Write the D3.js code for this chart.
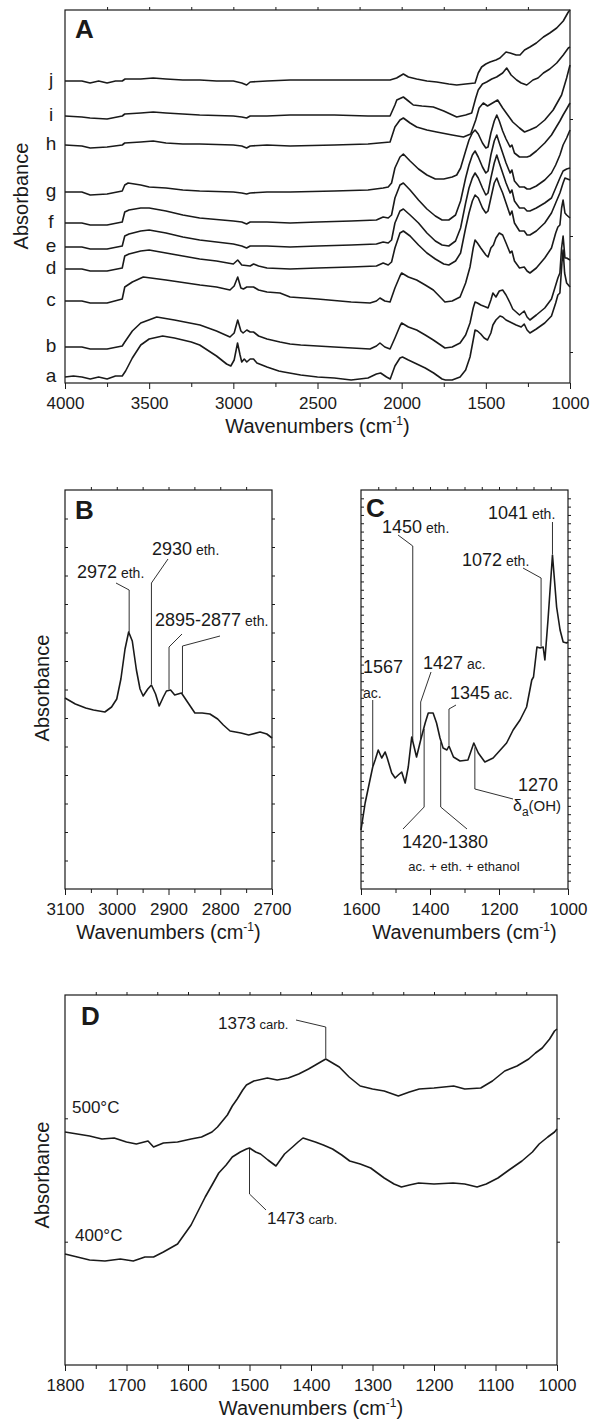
<!DOCTYPE html>
<html><head><meta charset="utf-8">
<script src="https://cdn.jsdelivr.net/npm/d3@7"></script>
<style>
body{margin:0;background:#fff}
svg{display:block;background:#fff}
text{font-family:"Liberation Sans",Arial,Helvetica,sans-serif;fill:#1a1a1a}
</style>
</head><body>
<svg id="chart" width="595" height="1419"></svg>
<script>
// ---------------- DATA ----------------
// Panel A: stacked spectra a..j (wavenumber, absorbance a.u.)
const curveLabelsA = ['a','b','c','d','e','f','g','h','i','j'];
const specA_a = [[4000,6],[3950,7],[3900,6],[3850,4],[3800,6],[3750,4],[3700,7],[3660,7],[3640,12],[3600,25],[3550,38],[3500,44],[3420,47],[3350,45],[3250,41],[3200,38],[3100,27],[3040,19],[3015,17],[2995,23],[2975,40],[2960,28],[2950,21],[2935,24],[2920,21],[2900,24],[2880,24],[2860,20],[2830,18],[2800,16],[2730,12],[2700,11],[2600,8],[2500,6],[2400,5],[2300,3],[2200,5],[2150,9],[2125,10],[2090,6],[2068,4],[2040,17],[2010,25],[1995,26],[1960,23],[1910,19],[1860,15],[1810,10],[1760,4],[1740,3],[1700,3],[1653,6],[1620,13],[1594,26],[1575,43],[1564,53],[1550,52],[1530,49],[1510,45],[1490,43],[1470,50],[1458,58],[1440,63],[1416,67],[1400,66],[1380,63],[1356,61],[1320,58],[1290,56],[1272,59],[1255,53],[1238,50],[1200,54],[1150,60],[1110,67],[1085,80],[1072,88],[1060,90],[1048,120],[1041,133],[1032,110],[1020,100],[1000,96]];
const specA_b = [[4000,36],[3900,36],[3850,34],[3750,34],[3660,37],[3645,41],[3600,52],[3550,60],[3455,66],[3350,63],[3198,58],[3100,52],[3020,46],[2995,50],[2974,63],[2955,52],[2942,50],[2920,53],[2900,51],[2880,51],[2850,47],[2800,44],[2723,41],[2663,39],[2600,38],[2400,36],[2188,34],[2150,37],[2129,40],[2100,36],[2069,34],[2040,45],[2010,57],[2000,60],[1960,56],[1911,53],[1860,48],[1812,43],[1760,37],[1743,35],[1700,36],[1653,40],[1620,48],[1594,60],[1575,75],[1564,81],[1550,80],[1530,78],[1500,76],[1487,75],[1470,83],[1458,90],[1440,86],[1420,92],[1400,93],[1380,88],[1356,80],[1340,74],[1300,68],[1272,72],[1255,66],[1238,63],[1200,68],[1150,75],[1110,84],[1090,95],[1072,105],[1060,110],[1050,135],[1041,147],[1030,125],[1020,125],[1000,123]];
const specA_c = [[4000,82],[3900,82],[3850,80],[3750,80],[3660,84],[3645,96],[3600,101],[3535,106],[3400,103],[3198,98],[3100,96],[3020,93],[2995,97],[2974,106],[2955,95],[2940,94],[2920,96],[2880,96],[2850,93],[2800,91],[2723,90],[2663,86],[2500,84],[2300,81],[2188,80],[2150,82],[2129,85],[2100,82],[2069,81],[2040,95],[2010,107],[2000,110],[1960,106],[1911,103],[1860,98],[1812,93],[1760,84],[1743,81],[1700,82],[1653,86],[1620,100],[1594,116],[1575,135],[1564,143],[1550,140],[1530,135],[1500,128],[1487,126],[1470,135],[1455,138],[1440,145],[1420,150],[1400,148],[1380,140],[1356,130],[1345,132],[1330,122],[1300,115],[1272,116],[1255,112],[1238,110],[1200,115],[1150,125],[1110,135],[1085,150],[1072,156],[1060,158],[1050,175],[1041,183],[1030,170],[1020,168],[1000,165]];
const specA_d = [[4000,114],[3900,114],[3850,112],[3750,112],[3660,115],[3645,127],[3620,129],[3550,132],[3500,133],[3400,130],[3300,127],[3200,124],[3100,122],[3000,119],[2974,123],[2950,118],[2900,117],[2880,119],[2850,117],[2800,115],[2663,114],[2500,115],[2300,116],[2150,117],[2110,120],[2080,118],[2060,121],[2040,135],[2010,150],[1990,152],[1950,147],[1900,138],[1850,130],[1800,124],[1750,119],[1720,118],[1680,122],[1650,130],[1620,155],[1600,170],[1580,182],[1564,188],[1545,185],[1520,175],[1500,170],[1487,172],[1470,185],[1450,200],[1435,205],[1420,198],[1400,190],[1380,180],[1356,168],[1345,172],[1330,160],[1300,152],[1272,152],[1255,148],[1238,148],[1200,152],[1150,160],[1110,170],[1085,180],[1060,190],[1041,200],[1030,205],[1000,203]];
const specA_e = [[4000,136],[3900,136],[3850,134],[3750,134],[3660,137],[3645,147],[3620,149],[3550,152],[3500,153],[3400,150],[3300,146],[3200,143],[3000,139],[2950,137],[2921,135],[2900,137],[2800,137],[2663,136],[2500,137],[2300,138],[2150,139],[2110,141],[2080,140],[2060,143],[2040,160],[2010,172],[1990,174],[1950,168],[1900,160],[1850,150],[1800,142],[1760,138],[1720,137],[1680,142],[1650,155],[1620,180],[1600,195],[1580,205],[1564,210],[1545,205],[1520,195],[1500,188],[1487,190],[1470,205],[1450,220],[1435,228],[1420,220],[1400,210],[1380,200],[1356,190],[1345,193],[1330,182],[1300,175],[1272,175],[1255,172],[1238,172],[1200,175],[1150,180],[1110,185],[1085,195],[1060,205],[1041,212],[1020,214],[1000,215]];
const specA_f = [[4000,160],[3900,160],[3850,158],[3750,158],[3660,161],[3645,171],[3620,173],[3550,175],[3500,175],[3400,172],[3300,168],[3200,165],[3000,162],[2950,161],[2921,159],[2900,161],[2800,161],[2663,160],[2500,161],[2300,162],[2150,163],[2110,166],[2080,165],[2060,168],[2040,185],[2010,198],[1990,200],[1950,193],[1900,183],[1850,174],[1800,167],[1760,163],[1720,163],[1680,168],[1650,182],[1620,205],[1600,218],[1580,228],[1564,232],[1545,226],[1520,216],[1500,210],[1487,212],[1470,228],[1450,242],[1435,248],[1420,240],[1400,230],[1380,220],[1356,210],[1345,213],[1330,202],[1300,196],[1272,196],[1255,194],[1238,194],[1200,197],[1150,203],[1110,210],[1085,218],[1060,228],[1041,238],[1020,245],[1000,253]];
const specA_g = [[4000,191],[3900,191],[3850,188],[3750,189],[3660,192],[3645,198],[3625,200],[3550,198],[3500,196],[3400,195],[3300,193],[3200,192],[3000,191],[2950,190],[2921,189],[2900,190],[2800,191],[2663,191],[2400,192],[2200,193],[2110,195],[2080,196],[2060,200],[2040,215],[2010,226],[1990,229],[1950,222],[1900,214],[1850,208],[1800,204],[1750,204],[1700,206],[1673,208],[1650,215],[1620,232],[1600,243],[1580,250],[1564,253],[1545,249],[1520,240],[1500,235],[1487,236],[1470,250],[1450,262],[1435,268],[1420,262],[1400,252],[1380,244],[1356,236],[1345,238],[1330,230],[1300,226],[1272,226],[1255,226],[1238,227],[1200,232],[1150,240],[1110,248],[1085,255],[1060,262],[1041,268],[1020,274],[1000,280]];
const specA_h = [[4000,238],[3900,237],[3850,235],[3750,236],[3660,238],[3645,240],[3550,241],[3476,242],[3400,240],[3300,239],[3200,239],[3000,238],[2950,237],[2921,235],[2900,237],[2800,238],[2663,237],[2400,238],[2200,239],[2069,241],[2040,256],[2010,263],[1990,265],[1950,260],[1911,256],[1850,253],[1792,251],[1700,248],[1633,246],[1590,249],[1560,263],[1540,275],[1515,280],[1490,277],[1460,280],[1430,283],[1400,275],[1370,268],[1340,261],[1300,255],[1270,251],[1240,253],[1200,256],[1150,263],[1100,273],[1050,288],[1020,305],[1000,318]];
const specA_i = [[4000,267],[3900,266],[3851,265],[3750,264],[3660,267],[3645,269],[3550,270],[3476,271],[3400,270],[3200,268],[3000,267],[2950,266],[2921,265],[2900,267],[2800,267],[2663,268],[2400,268],[2200,267],[2069,267],[2040,278],[2029,283],[1990,286],[1960,282],[1931,278],[1880,277],[1812,276],[1750,272],[1673,266],[1620,268],[1584,270],[1560,285],[1545,293],[1520,299],[1495,301],[1465,304],[1436,306],[1400,310],[1376,315],[1350,308],[1317,303],[1290,300],[1257,298],[1220,303],[1190,305],[1158,310],[1120,314],[1079,320],[1040,328],[1010,335],[1000,336]];
const specA_j = [[4000,302],[3900,302],[3851,300],[3800,302],[3750,300],[3700,302],[3660,302],[3643,304],[3550,304],[3476,305],[3400,304],[3300,303],[3198,303],[3100,302],[3000,302],[2950,300],[2921,298],[2900,301],[2800,302],[2663,303],[2400,303],[2200,303],[2069,303],[2030,305],[1990,309],[1960,306],[1911,304],[1850,302],[1792,301],[1720,299],[1673,298],[1620,299],[1564,300],[1545,310],[1525,316],[1500,319],[1475,321],[1440,323],[1416,325],[1380,331],[1356,330],[1320,328],[1297,328],[1270,333],[1238,336],[1200,340],[1158,346],[1120,350],[1079,355],[1040,362],[1010,371],[1000,373]];
const seriesA = [specA_a,specA_b,specA_c,specA_d,specA_e,specA_f,specA_g,specA_h,specA_i,specA_j];
const ticksA = [4000,3500,3000,2500,2000,1500,1000];

// Panel B: 3100-2700 region
const specB = [[3100,191],[3080,185],[3060,181],[3045,179],[3023,177],[3010,182],[3000,190],[2992,210],[2984,240],[2977,257],[2970,248],[2962,219],[2955,200],[2949,193],[2940,200],[2933,204],[2925,195],[2918,183],[2910,192],[2904,198],[2896,199],[2888,194],[2875,196],[2862,186],[2849,176],[2835,176],[2820,175],[2805,170],[2794,164],[2781,158],[2760,156],[2745,154],[2723,157],[2710,155],[2700,151]];
const ticksB = [3100,3000,2900,2800,2700];

// Panel C: 1600-1000 region
const specC = [[1600,59],[1588,86],[1574,109],[1566,122],[1559,129],[1550,139],[1540,131],[1530,137],[1524,131],[1511,116],[1501,111],[1492,114],[1482,117],[1472,106],[1463,122],[1453,152],[1439,132],[1427,149],[1414,166],[1405,176],[1391,176],[1381,166],[1371,151],[1362,141],[1351,139],[1345,143],[1332,132],[1313,128],[1290,129],[1273,146],[1260,136],[1241,127],[1217,131],[1178,146],[1159,159],[1139,169],[1120,182],[1105,209],[1100,212],[1090,242],[1081,241],[1072,242],[1067,229],[1058,269],[1045,334],[1033,282],[1023,259],[1014,247],[1004,246],[1000,247]];
const ticksC = [1600,1400,1200,1000];

// Panel D: 1800-1000 region, two temperatures
const seriesNamesD = ['500°C','400°C'];
const specD500 = [[1800,233],[1780,231],[1760,229],[1740,226],[1720,227],[1700,223],[1684,221],[1665,224],[1656,218],[1640,222],[1617,223],[1595,226],[1578,228],[1561,233],[1552,238],[1544,244],[1536,250],[1528,259],[1520,266],[1511,275],[1505,280],[1493,284],[1471,287],[1455,285],[1437,287],[1420,291],[1404,296],[1390,301],[1376,306],[1365,302],[1354,298],[1338,288],[1320,279],[1300,276],[1281,274],[1258,269],[1240,273],[1224,276],[1200,277],[1168,279],[1150,276],[1124,277],[1105,284],[1085,294],[1065,299],[1046,306],[1035,312],[1024,317],[1012,326],[1004,334],[1000,336]];
const specD400 = [[1800,111],[1780,108],[1760,105],[1735,104],[1710,106],[1689,104],[1670,108],[1656,108],[1640,113],[1617,121],[1595,140],[1572,168],[1560,181],[1550,192],[1538,200],[1528,208],[1515,213],[1505,216],[1500,217],[1490,213],[1482,211],[1470,205],[1457,199],[1443,211],[1430,218],[1421,223],[1413,227],[1393,223],[1380,220],[1365,216],[1350,210],[1337,204],[1320,201],[1303,197],[1281,187],[1265,181],[1253,178],[1240,180],[1225,182],[1200,181],[1169,182],[1150,181],[1130,178],[1115,181],[1096,187],[1078,195],[1057,204],[1040,213],[1029,221],[1015,228],[1004,233],[1000,236]];
const ticksD = [1800,1700,1600,1500,1400,1300,1200,1100,1000];

// ---------------- DRAWING ----------------
const svg = d3.select('#chart');
const INK = '#1a1a1a';

function interp(spec, w){
  for(let k=0;k<spec.length-1;k++){
    const a=spec[k], b=spec[k+1];
    if((w<=a[0]&&w>=b[0])){ const t=(a[0]-w)/(a[0]-b[0]); return a[1]+t*(b[1]-a[1]); }
  }
  return spec[spec.length-1][1];
}

function drawPanel(p){
  const x = d3.scaleLinear().domain(p.xd).range([p.left,p.right]);
  const y = d3.scaleLinear().domain(p.yd).range([p.bottom,p.top]);
  const g = svg.append('g');
  g.append('g').attr('transform',`translate(0,${p.bottom})`)
    .call(d3.axisBottom(x).tickValues(p.minor).tickSize(4).tickSizeOuter(0).tickFormat(''))
    .call(s=>s.select('.domain').remove());
  const ax = g.append('g').attr('transform',`translate(0,${p.bottom})`)
    .call(d3.axisBottom(x).tickValues(p.major).tickSize(6).tickSizeOuter(0).tickPadding(8).tickFormat(d3.format('d')));
  ax.select('.domain').remove();
  ax.selectAll('text').attr('font-size',p.tickFont||17).attr('fill',INK)
    .attr('font-family','"Liberation Sans",Arial,sans-serif');
  g.selectAll('.tick line').attr('stroke',INK);
  if(p.top_ticks){
    g.append('g').attr('transform',`translate(0,${p.top})`)
      .call(d3.axisTop(x).tickValues(p.top_ticks).tickSize(p.topTickSize||3).tickSizeOuter(0).tickFormat(''))
      .call(s=>{s.select('.domain').remove(); s.selectAll('line').attr('stroke',INK);});
  }
  if(p.side_ticks){
    g.append('g').attr('transform',`translate(${p.left},0)`)
      .call(d3.axisRight(y).tickValues(p.side_ticks).tickSize(p.sideTickSize||3).tickSizeOuter(0).tickFormat(''))
      .call(s=>{s.select('.domain').remove(); s.selectAll('line').attr('stroke',INK);});
    g.append('g').attr('transform',`translate(${p.right},0)`)
      .call(d3.axisRight(y).tickValues(p.side_ticks).tickSize(p.sideTickSize||3).tickSizeOuter(0).tickFormat(''))
      .call(s=>{s.select('.domain').remove(); s.selectAll('line').attr('stroke',INK);});
  }
  g.append('rect').attr('x',p.left).attr('y',p.top).attr('width',p.right-p.left).attr('height',p.bottom-p.top)
    .attr('fill','none').attr('stroke',INK).attr('stroke-width',1.2);
  const t = g.append('text').attr('x',(p.left+p.right)/2).attr('y',p.bottom+50)
    .attr('text-anchor','middle').attr('font-size',20);
  t.append('tspan').text('Wavenumbers (cm');
  t.append('tspan').attr('font-size',12).attr('dy',-8).text('-1');
  t.append('tspan').attr('dy',8).text(')');
  if(p.ylabX!=null){
    g.append('text').attr('transform',`translate(${p.ylabX},${p.ylabY}) rotate(-90)`)
      .attr('text-anchor','middle').attr('dominant-baseline','central').attr('font-size',20).text('Absorbance');
  }
  g.append('text').attr('x',p.letterX).attr('y',p.letterY).attr('font-size',26).attr('font-weight','bold').text(p.letter);
  return {x,y,g};
}

const line = (x,y)=>d3.line().x(d=>x(d[0])).y(d=>y(d[1]));
function drawCurve(P, spec){
  P.g.append('path').datum(spec).attr('d',line(P.x,P.y)).attr('fill','none')
    .attr('stroke',INK).attr('stroke-width',1.6).attr('stroke-linejoin','round');
}
function leader(P, pts){
  P.g.append('path').attr('d',d3.line()(pts)).attr('fill','none').attr('stroke',INK).attr('stroke-width',0.9);
}
function label(P, x, y, num, suf, numSize, sufSize){
  const t = P.g.append('text').attr('x',x).attr('y',y).attr('font-size',numSize||18);
  t.append('tspan').text(num);
  if(suf) t.append('tspan').attr('font-size',sufSize||14).text(' '+suf);
  return t;
}
const cy = (P,spec,w)=>P.y(interp(spec,w));

// ---- Panel A ----
const A = drawPanel({left:65,right:570,top:10,bottom:383,xd:[4000,1000],yd:[0,373],
  major:ticksA, minor:d3.range(3750,1000,-500), top_ticks:d3.range(3750,1000,-250),
  ylabX:21, ylabY:196, letter:'A', letterX:75, letterY:38});
A.g.append('g').attr('transform',`translate(${570},0)`)
  .call(d3.axisRight(A.y).tickValues([264,147,31]).tickSize(3).tickFormat(''))
  .call(s=>{s.select('.domain').remove(); s.selectAll('line').attr('stroke',INK);});
seriesA.forEach((s,i)=>{
  drawCurve(A,s);
  A.g.append('text').attr('x',51).attr('y',A.y(s[0][1])+5).attr('text-anchor','middle')
    .attr('font-size',19).text(curveLabelsA[i]);
});

// ---- Panel B ----
const B = drawPanel({left:65,right:272,top:490,bottom:889,xd:[3100,2700],yd:[0,399],
  major:ticksB, minor:[3050,2950,2850,2750], top_ticks:d3.range(3050,2700,-50),
  side_ticks:d3.range(1,14).map(k=>k*399/14),
  ylabX:42, ylabY:688, letter:'B', letterX:75, letterY:519});
drawCurve(B,specB);
label(B,77,578,'2972','eth.');
leader(B,[[116,583],[B.x(2976),590],[B.x(2976),cy(B,specB,2976)-1]]);
label(B,152,555,'2930','eth.');
leader(B,[[168,559],[B.x(2933),583],[B.x(2933),cy(B,specB,2933)-1]]);
label(B,155,626,'2895-2877','eth.');
leader(B,[[182,634],[B.x(2899),647],[B.x(2899),cy(B,specB,2899)-1]]);
leader(B,[[220,636],[B.x(2873),646],[B.x(2873),cy(B,specB,2873)-1]]);

// ---- Panel C ----
const C = drawPanel({left:361,right:568,top:490,bottom:889,xd:[1600,1000],yd:[0,399],
  major:ticksC, minor:[1500,1300,1100], top_ticks:d3.range(1550,1000,-50),
  side_ticks:d3.range(1,48).map(k=>k*399/48), sideTickSize:3,
  ylabX:null, letter:'C', letterX:366, letterY:517});
drawCurve(C,specC);
label(C,488,519,'1041','eth.');
leader(C,[[C.x(1045),522],[C.x(1045),cy(C,specC,1045)-1]]);
label(C,462,566,'1072','eth.');
leader(C,[[523,568],[C.x(1078),578],[C.x(1078),cy(C,specC,1078)-1]]);
label(C,382,533,'1450','eth.');
leader(C,[[398,535],[C.x(1450),546],[C.x(1450),cy(C,specC,1450)-1]]);
label(C,363,673,'1567');
label(C,363,698,'ac.',null,14);
leader(C,[[C.x(1566),700],[C.x(1566),cy(C,specC,1566)-1]]);
label(C,423,669,'1427','ac.');
leader(C,[[431,672],[C.x(1427),702],[C.x(1427),cy(C,specC,1427)-1]]);
label(C,450,699,'1345','ac.');
leader(C,[[456,705],[C.x(1345),709],[C.x(1345),cy(C,specC,1345)-1]]);
label(C,518,791,'1270');
const dl = C.g.append('text').attr('x',513).attr('y',811).attr('font-size',16);
dl.append('tspan').text('δ');
dl.append('tspan').attr('font-size',12).attr('dy',5).text('a');
dl.append('tspan').attr('font-size',15).attr('dy',-5).text('(OH)');
leader(C,[[C.x(1270),cy(C,specC,1270)+2],[C.x(1270),789],[513,799]]);
leader(C,[[C.x(1417),cy(C,specC,1417)+2],[C.x(1417),807],[403,829]]);
leader(C,[[C.x(1369),cy(C,specC,1369)+2],[C.x(1369),807],[467,829]]);
label(C,402,848,'1420-1380');
C.g.append('text').attr('x',464).attr('y',871).attr('text-anchor','middle').attr('font-size',13).text('ac. + eth. + ethanol');

// ---- Panel D ----
const D = drawPanel({left:65,right:557,top:995,bottom:1365,xd:[1800,1000],yd:[0,370],
  major:ticksD, minor:d3.range(1750,1000,-100), top_ticks:d3.range(1750,1000,-50),
  side_ticks:[123.3,246.7],
  ylabX:42, ylabY:1175, letter:'D', letterX:81, letterY:1025});
drawCurve(D,specD500);
drawCurve(D,specD400);
D.g.append('text').attr('x',72).attr('y',1113).attr('font-size',17).text(seriesNamesD[0]);
D.g.append('text').attr('x',75).attr('y',1241).attr('font-size',17).text(seriesNamesD[1]);
label(D,218,1029,'1373','carb.',17,13);
leader(D,[[296,1020],[D.x(1376),1027],[D.x(1376),cy(D,specD500,1376)-1]]);
label(D,267,1224,'1473','carb.',17,13);
leader(D,[[D.x(1500),cy(D,specD400,1500)+1],[D.x(1500),1194],[266,1210]]);
</script>
</body></html>
